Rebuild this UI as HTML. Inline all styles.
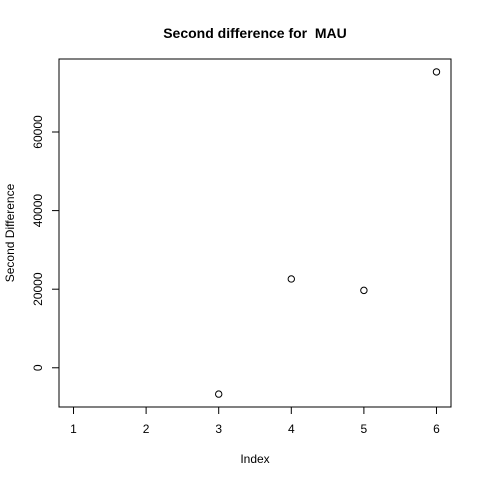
<!DOCTYPE html>
<html><head><meta charset="utf-8"><style>
body{margin:0;background:#fff}
svg text{font-family:"Liberation Sans",Arial,sans-serif;fill:#000}
</style></head><body>
<svg width="480" height="480">
<text x="255" y="38" font-size="14" font-weight="bold" text-anchor="middle" style="white-space:pre">Second difference for  MAU</text>
<rect x="59" y="59" width="392" height="348" fill="none" stroke="#000"/>
<g id="xa"></g>
<g id="ya"></g>
<g id="pts"></g>
<text x="255" y="463" font-size="12" text-anchor="middle">Index</text>
<text transform="translate(14,233) rotate(-90)" font-size="12" text-anchor="middle">Second Difference</text>
</svg>
<script>
const indices=[1,2,3,4,5,6];
const values=[null,null,-6700,22600,19700,75300];
const xTicks=[1,2,3,4,5,6];
const yTicks=[0,20000,40000,60000];
const NS="http://www.w3.org/2000/svg";
const L=59,R=451,T=59,B=407;
const xmin=0.8,xmax=6.2,ymin=-9980,ymax=78580;
const X=v=>L+(v-xmin)/(xmax-xmin)*(R-L);
const Y=v=>B-(v-ymin)/(ymax-ymin)*(B-T);
function mk(t,a,p){const e=document.createElementNS(NS,t);for(const k in a)e.setAttribute(k,a[k]);p.appendChild(e);return e;}
const xa=document.getElementById('xa'),ya=document.getElementById('ya'),pts=document.getElementById('pts');
mk('line',{x1:X(xTicks[0]),x2:X(xTicks[xTicks.length-1]),y1:B,y2:B,stroke:'#000'},xa);
xTicks.forEach(v=>{
 const l=mk('line',{x1:X(v),x2:X(v),y1:B,y2:B+7,stroke:'#000'},xa);
 
 
 const t=mk('text',{x:X(v),y:B+26,'font-size':12,'text-anchor':'middle'},xa);
 
 
 t.textContent=v;
});
mk('line',{x1:L,x2:L,y1:Y(yTicks[0]),y2:Y(yTicks[yTicks.length-1]),stroke:'#000'},ya);
yTicks.forEach(v=>{
 const l=mk('line',{x1:L-7,x2:L,y1:Y(v),y2:Y(v),stroke:'#000'},ya);
 
 
 const t=mk('text',{transform:`translate(${L-17},${Y(v)}) rotate(-90)`,'font-size':12,'text-anchor':'middle'},ya);
 
 
 t.textContent=v;
});
indices.forEach((ix,i)=>{
 if(values[i]==null)return;
 const c=mk('circle',{cx:X(ix),cy:Y(values[i]),r:3.2,fill:'none',stroke:'#000'},pts);
 
 
});
</script>
</body></html>
